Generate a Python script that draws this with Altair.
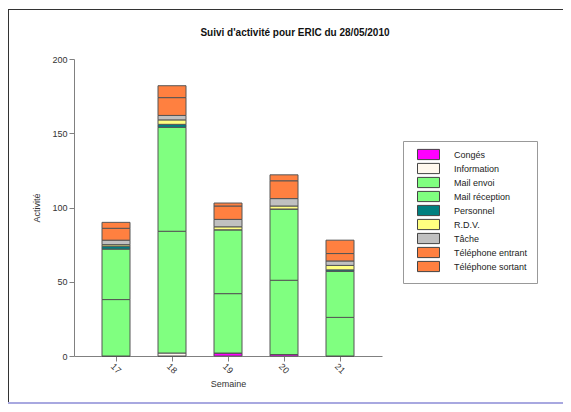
import altair as alt
import pandas as pd

weeks = ["17", "18", "19", "20", "21"]
categories = ["Congés", "Information", "Mail envoi", "Mail réception", "Personnel",
              "R.D.V.", "Tâche", "Téléphone entrant", "Téléphone sortant"]
colors = ["#FF00FF", "#FFF8EE", "#80FF80", "#80FF80", "#008080",
          "#FFFF80", "#C0C0C0", "#FF8040", "#FF8040"]

conges = [0, 0, 2, 1, 0]
information = [0, 2, 0, 0, 0]
mail_envoi = [38, 82, 40, 50, 26]
mail_reception = [34, 70, 43, 48, 31]
personnel = [2, 2, 0, 0, 1]
rdv = [1, 3, 2, 2, 3]
tache = [3, 3, 5, 5, 3]
tel_entrant = [8, 12, 9, 12, 5]
tel_sortant = [4, 8, 2, 4, 9]

series = [conges, information, mail_envoi, mail_reception, personnel,
          rdv, tache, tel_entrant, tel_sortant]

rows = []
for ci, (cat, vals) in enumerate(zip(categories, series)):
    for w, v in zip(weeks, vals):
        rows.append({"Semaine": w, "Type": cat, "Activité": v, "ord": ci})
df = pd.DataFrame(rows)

FONT = "Liberation Sans"

bars = alt.Chart(df).mark_bar(stroke="#555555", strokeWidth=1).encode(
    x=alt.X("Semaine:N", sort=weeks,
            scale=alt.Scale(paddingInner=0.5, paddingOuter=0.5),
            axis=alt.Axis(title="Semaine", labelAngle=45, labelAlign="center",
                          labelBaseline="middle", labelPadding=7, titlePadding=4)),
    y=alt.Y("Activité:Q", stack="zero",
            scale=alt.Scale(domain=[0, 200]),
            axis=alt.Axis(title="Activité", values=[0, 50, 100, 150, 200],
                          grid=False, titlePadding=10)),
    color=alt.Color("Type:N", sort=categories,
                    scale=alt.Scale(domain=categories, range=colors),
                    legend=alt.Legend(title="\u00a0", titleOrient="left", titleFontSize=9,
                                      titlePadding=4,
                                      orient="none", legendX=329, legendY=82,
                                      padding=9, strokeColor="#999999", fillColor="white",
                                      symbolType="M-1,-1.7H6.33V1.7H-1Z", symbolSize=36,
                                      symbolStrokeColor="#444444", symbolStrokeWidth=1,
                                      symbolOpacity=1, labelFontSize=9, labelFont=FONT,
                                      labelOffset=29, rowPadding=-1, labelColor="#222222")),
    order=alt.Order("ord:Q"),
)

frame_top = alt.Chart(df).mark_rule(color="#333333", strokeWidth=1).encode(
    x=alt.value(-66), x2=alt.value(500), y=alt.value(-49.5))
frame_left = alt.Chart(df).mark_rule(color="#333333", strokeWidth=1).encode(
    x=alt.value(-65.5), y=alt.value(-50), y2=alt.value(343))
bottom_line = alt.Chart(df).mark_rule(color="#A8A8E0", strokeWidth=2).encode(
    x=alt.value(-66), x2=alt.value(500), y=alt.value(344))

chart = alt.layer(bars, frame_top, frame_left, bottom_line).properties(
    width=308, height=297,
    autosize=alt.AutoSizeParams(type="none"),
    padding={"left": 66, "top": 51, "right": 181, "bottom": 48},
    title=alt.Title("Suivi d'activité pour ERIC du 28/05/2010", anchor="middle", dx=67,
                    dy=39, fontSize=10, font=FONT, fontWeight="bold", offset=0,
                    baseline="bottom", color="#111111"),
).configure_view(stroke=None).configure_axis(
    domainColor="#808080", tickColor="#808080", tickSize=5,
    labelFont=FONT, labelFontSize=9, labelColor="#333333",
    titleFont=FONT, titleFontSize=9, titleFontWeight="normal", titleColor="#333333",
)

chart.save("out.html", embed_options={"renderer": "svg", "actions": False})
